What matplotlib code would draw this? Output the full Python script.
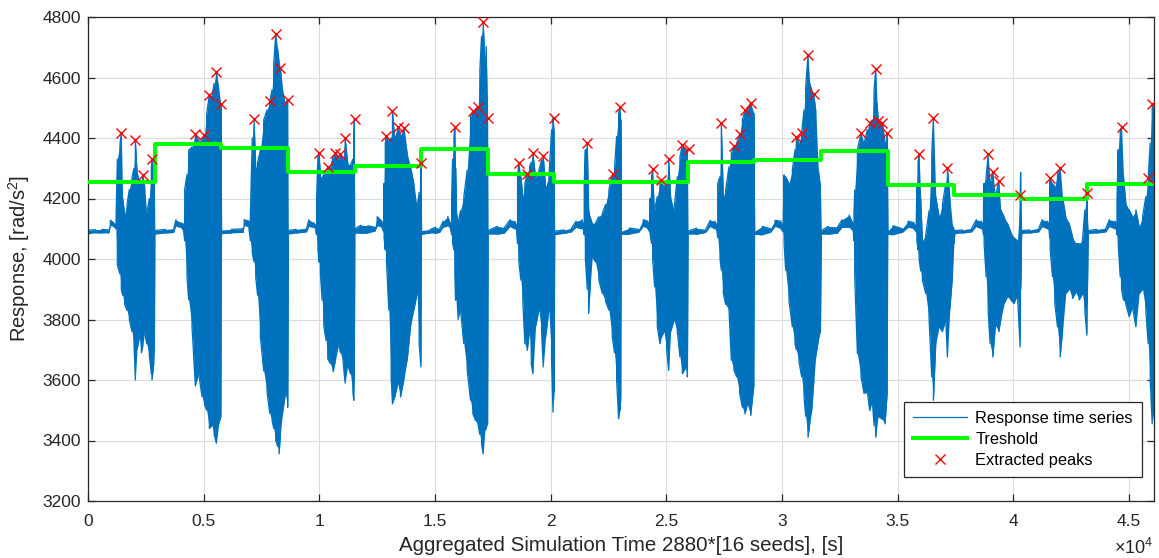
import matplotlib
matplotlib.use("Agg")
import matplotlib.pyplot as plt

plt.rcParams['font.family'] = ['Liberation Sans', 'DejaVu Sans']
plt.rcParams['mathtext.default'] = 'regular'

# ---------------- data ----------------
# Envelope of the dense response time series: time [s], upper and lower values [rad/s^2]
resp_t = [
    0, 316, 604, 892, 964, 1108, 1209, 1267, 1382, 1440, 1498, 1584, 1685, 1786, 1901, 1988, 2046, 2118, 2219, 2305, 2363, 2449, 2536, 2651, 2738, 2766, 2838, 2870,
    2890, 3343, 3704, 3805, 3992, 4136, 4179, 4280, 4352, 4496, 4641, 4785, 4929, 5030, 5130, 5246, 5362, 5450, 5549, 5650, 5745,
    5775, 6200, 6700, 6750, 6950, 7020, 7100, 7178, 7250, 7330, 7452, 7596, 7740, 7856, 7957, 8029, 8115, 8202, 8260, 8317, 8389, 8533, 8630,
    8655, 9000, 9450, 9550, 9750, 9850, 9880, 9940, 9989, 10047, 10120, 10191, 10290, 10364, 10480, 10595, 10681, 10840, 10912, 11027, 11114, 11229, 11345, 11450, 11489, 11512,
    11535, 11800, 12100, 12400, 12500, 12700, 12780, 12800, 12850, 12902, 13003, 13103, 13161, 13248, 13392, 13507, 13651, 13795, 13940, 14084, 14228, 14314, 14392,
    14420, 14800, 15021, 15200, 15350, 15550, 15680, 15720, 15760, 15820, 15857, 15890, 15930, 16001, 16102, 16246, 16391, 16535, 16636, 16751, 16866, 16938, 17011, 17083, 17155, 17212, 17270,
    17295, 17700, 18000, 18250, 18450, 18530, 18568, 18625, 18712, 18798, 18885, 18986, 19087, 19160, 19231, 19346, 19490, 19606, 19678, 19779, 19923, 20038, 20100, 20150,
    20175, 20600, 20900, 21100, 21350, 21430, 21450, 21500, 21581, 21640, 21700, 21797, 21941, 22085, 22230, 22374, 22518, 22662, 22760, 22850, 22936, 22994, 23030,
    23060, 23400, 23800, 24000, 24200, 24280, 24300, 24360, 24407, 24493, 24608, 24724, 24781, 24897, 25012, 25099, 25185, 25329, 25473, 25589, 25690, 25834, 25910,
    25940, 26300, 26700, 26900, 27100, 27190, 27220, 27319, 27376, 27463, 27564, 27708, 27809, 27924, 28039, 28169, 28285, 28400, 28501, 28645, 28780,
    28820, 29150, 29500, 29700, 29950, 30050, 30090, 30158, 30302, 30446, 30562, 30619, 30735, 30850, 30951, 31023, 31124, 31196, 31283, 31369, 31455, 31571, 31660,
    31700, 32000, 32400, 32600, 32900, 33080, 33110, 33142, 33258, 33416, 33546, 33690, 33791, 33906, 33978, 34051, 34108, 34166, 34339, 34454, 34545,
    34580, 34800, 35200, 35450, 35700, 35800, 35830, 35880, 35925, 35997, 36069, 36213, 36357, 36473, 36545, 36646, 36790, 36934, 37078, 37150, 37251, 37367, 37430,
    37470, 37800, 38200, 38400, 38620, 38690, 38710, 38736, 38823, 38909, 38994, 39111, 39226, 39371, 39457, 39601, 39745, 39890, 40034, 40178, 40293, 40315,
    40360, 40700, 41100, 41250, 41480, 41550, 41570, 41591, 41692, 41793, 41908, 42023, 42124, 42268, 42413, 42557, 42701, 42845, 42989, 43090, 43177, 43195,
    43240, 43600, 44000, 44150, 44400, 44460, 44480, 44532, 44618, 44676, 44762, 44863, 45008, 45152, 45296, 45440, 45584, 45728, 45829, 45916, 46002, 46080,
]
resp_hi = [
    4095, 4097, 4098, 4096, 4128, 4120, 4118, 4330, 4380, 4418, 4200, 4150, 4180, 4230, 4270, 4300, 4394, 4290, 4260, 4250, 4277, 4240, 4150, 4200, 4300, 4331, 4300, 4250,
    4094, 4098, 4100, 4130, 4120, 4115, 4230, 4280, 4360, 4370, 4412, 4390, 4395, 4409, 4480, 4543, 4540, 4580, 4617, 4560, 4512,
    4096, 4098, 4100, 4130, 4125, 4150, 4400, 4462, 4300, 4320, 4360, 4460, 4493, 4521, 4560, 4648, 4745, 4692, 4650, 4633, 4570, 4515, 4526,
    4094, 4098, 4102, 4130, 4120, 4110, 4200, 4340, 4350, 4272, 4270, 4280, 4290, 4305, 4300, 4338, 4352, 4330, 4346, 4330, 4401, 4316, 4310, 4330, 4380, 4462,
    4100, 4112, 4110, 4105, 4140, 4125, 4110, 4250, 4383, 4407, 4390, 4400, 4488, 4405, 4438, 4410, 4432, 4350, 4305, 4250, 4170, 4220, 4319,
    4094, 4098, 4105, 4100, 4125, 4140, 4115, 4200, 4330, 4405, 4436, 4300, 4160, 4120, 4160, 4206, 4294, 4471, 4488, 4495, 4504, 4625, 4736, 4782, 4659, 4703, 4465,
    4094, 4108, 4104, 4130, 4125, 4110, 4272, 4319, 4272, 4206, 4250, 4283, 4305, 4320, 4350, 4272, 4294, 4327, 4342, 4239, 4272, 4427, 4465, 4420,
    4092, 4096, 4102, 4125, 4130, 4110, 4250, 4361, 4385, 4170, 4140, 4118, 4120, 4140, 4150, 4180, 4230, 4278, 4300, 4405, 4482, 4504, 4460,
    4092, 4102, 4098, 4130, 4125, 4110, 4200, 4272, 4297, 4162, 4206, 4250, 4261, 4240, 4250, 4332, 4206, 4162, 4272, 4338, 4377, 4360, 4363,
    4092, 4102, 4098, 4128, 4125, 4110, 4250, 4272, 4449, 4206, 4230, 4305, 4350, 4372, 4383, 4412, 4460, 4491, 4493, 4517, 4482,
    4092, 4108, 4100, 4128, 4125, 4110, 4278, 4272, 4250, 4294, 4361, 4403, 4383, 4418, 4493, 4570, 4675, 4581, 4560, 4546, 4493, 4294, 4239,
    4094, 4108, 4106, 4130, 4145, 4115, 4150, 4228, 4361, 4416, 4383, 4427, 4451, 4460, 4559, 4628, 4515, 4455, 4451, 4383, 4416,
    4094, 4110, 4100, 4125, 4120, 4110, 4250, 4320, 4347, 4200, 4060, 4080, 4160, 4350, 4465, 4206, 4140, 4180, 4250, 4302, 4206, 4110, 4100,
    4094, 4096, 4102, 4130, 4125, 4110, 4180, 4250, 4272, 4347, 4250, 4288, 4206, 4259, 4162, 4140, 4118, 4090, 4070, 4060, 4210, 4286,
    4094, 4096, 4102, 4130, 4125, 4110, 4230, 4267, 4250, 4239, 4283, 4302, 4206, 4140, 4118, 4074, 4051, 4051, 4062, 4162, 4219, 4150,
    4094, 4098, 4102, 4130, 4125, 4110, 4200, 4361, 4427, 4436, 4272, 4184, 4162, 4140, 4162, 4107, 4140, 4206, 4267, 4383, 4512, 4493,
]
resp_lo = [
    4083, 4087, 4086, 4086, 4110, 4108, 4100, 3980, 3950, 3900, 3880, 3850, 3830, 3800, 3760, 3720, 3600, 3700, 3740, 3690, 3710, 3760, 3720, 3680, 3620, 3600, 3650, 3700,
    4082, 4086, 4088, 4110, 4105, 4090, 4060, 3940, 3865, 3775, 3580, 3620, 3545, 3520, 3500, 3440, 3450, 3420, 3391, 3455, 3480,
    4084, 4086, 4088, 4112, 4105, 4060, 4020, 3990, 3940, 3880, 3740, 3630, 3560, 3490, 3466, 3440, 3400, 3380, 3356, 3420, 3480, 3555, 3510,
    4082, 4086, 4090, 4108, 4105, 4090, 4080, 4030, 3990, 3950, 3864, 3780, 3731, 3670, 3654, 3627, 3660, 3720, 3690, 3660, 3590, 3650, 3620, 3560, 3533, 3600,
    4085, 4085, 4086, 4092, 4110, 4105, 4090, 4070, 4030, 3990, 3831, 3610, 3521, 3540, 3588, 3544, 3600, 3665, 3776, 3831, 3886, 3720, 3643,
    4082, 4086, 4085, 4088, 4105, 4110, 4095, 4080, 4051, 4030, 3950, 3864, 3900, 3800, 3831, 3720, 3632, 3533, 3488, 3466, 3450, 3420, 3389, 3356, 3433, 3440, 3455,
    4082, 4082, 4086, 4108, 4100, 4090, 4051, 3990, 3930, 3853, 3720, 3698, 3760, 3654, 3621, 3776, 3831, 3760, 3643, 3740, 3831, 3665, 3494, 3560,
    4080, 4085, 4090, 4105, 4100, 4090, 4080, 4000, 3900, 3820, 3900, 4007, 3990, 3930, 3886, 3860, 3831, 3742, 3690, 3600, 3472, 3500, 3540,
    4082, 4082, 4088, 4108, 4100, 4090, 4080, 4051, 4000, 3908, 3776, 3720, 3740, 3760, 3700, 3632, 3760, 3797, 3760, 3676, 3621, 3640, 3610,
    4082, 4082, 4088, 4108, 4100, 4090, 4070, 4000, 3963, 3886, 3850, 3831, 3665, 3632, 3610, 3555, 3510, 3488, 3520, 3483, 3580,
    4082, 4080, 4088, 4108, 4100, 4090, 4051, 3963, 3860, 3776, 3720, 3700, 3660, 3610, 3544, 3480, 3411, 3455, 3499, 3590, 3676, 3731, 3760,
    4082, 4082, 4086, 4105, 4105, 4090, 4060, 3941, 3687, 3610, 3555, 3560, 3499, 3530, 3450, 3411, 3460, 3480, 3470, 3455, 3555,
    4082, 4080, 4088, 4105, 4100, 4090, 4060, 4030, 4000, 3960, 3930, 3886, 3800, 3610, 3533, 3720, 3776, 3760, 3797, 3676, 3831, 3941, 4050,
    4084, 4086, 4090, 4108, 4100, 4090, 4080, 4051, 3941, 3831, 3720, 3676, 3780, 3760, 3800, 3853, 3875, 3865, 3853, 3880, 3709, 3900,
    4084, 4086, 4090, 4108, 4100, 4090, 4070, 4030, 3941, 3853, 3776, 3676, 3760, 3886, 3900, 3870, 3890, 3865, 3885, 3831, 3748, 3850,
    4084, 4086, 4090, 4108, 4100, 4090, 4080, 4051, 3941, 3900, 3864, 3850, 3809, 3840, 3776, 3886, 3900, 3830, 3720, 3600, 3455, 3500,
]

# Threshold: one level per seed (16 seeds of 2880 s)
thr_edges = [0, 2880, 5760, 8640, 11520, 14400, 17280, 20160, 23040, 25920,
             28800, 31680, 34560, 37440, 40320, 43200, 46080]
thr_values = [4254, 4380, 4368, 4288, 4308, 4363, 4280, 4256, 4256, 4322,
              4327, 4357, 4244, 4210, 4200, 4248]

# Extracted peaks
peak_t = [1440, 2046, 2363, 2766, 4641, 5030, 5246, 5549, 5765, 7178, 7856, 8115, 8317, 8634,
          9989, 10364, 10681, 10912, 11114, 11532, 12902, 13161, 13392, 13651, 14401,
          15857, 16636, 16866, 17083, 17284, 18625, 18986, 19231, 19678, 20125,
          21581, 22700, 22994, 24407, 24781, 25099, 25690, 25964,
          27376, 27924, 28169, 28400, 28645, 30619, 30850, 31124, 31369,
          33416, 33791, 34051, 34166, 34339, 34555, 35925, 36545, 37150,
          38909, 39111, 39371, 40293, 41591, 42023, 43177, 44676, 45829, 46002]
peak_v = [4418, 4394, 4277, 4331, 4412, 4409, 4543, 4617, 4512, 4462, 4521, 4745, 4633, 4526,
          4350, 4305, 4352, 4346, 4401, 4462, 4407, 4488, 4438, 4432, 4319,
          4436, 4488, 4504, 4782, 4465, 4319, 4281, 4350, 4342, 4465,
          4385, 4280, 4504, 4297, 4261, 4332, 4377, 4363,
          4449, 4372, 4412, 4491, 4517, 4403, 4418, 4675, 4546,
          4416, 4451, 4628, 4455, 4451, 4416, 4347, 4465, 4302,
          4347, 4288, 4259, 4210, 4267, 4302, 4219, 4436, 4267, 4512]

x_ticks = [0, 5000, 10000, 15000, 20000, 25000, 30000, 35000, 40000, 45000]
x_tick_labels = ['0', '0.5', '1', '1.5', '2', '2.5', '3', '3.5', '4', '4.5']
y_ticks = [3200, 3400, 3600, 3800, 4000, 4200, 4400, 4600, 4800]

assert len(resp_t) == len(resp_hi) == len(resp_lo)
assert len(peak_t) == len(peak_v)

# ---------------- plot ----------------
BLUE = '#0072BD'
AX_COL = '#262626'

fig = plt.figure(figsize=(11.59, 5.58), dpi=100)
ax = fig.add_axes([88 / 1159, 1 - 501 / 558, (1154 - 88) / 1159, (501 - 17) / 558])

# dense oscillating series: zig-zag through the read envelope, filled
zz_t, zz_v = [], []
for i, (t, h, l) in enumerate(zip(resp_t, resp_hi, resp_lo)):
    zz_t += [t, t]
    zz_v += [l, h] if i % 2 == 0 else [h, l]
ax.fill_between(resp_t, resp_lo, resp_hi, color=BLUE, lw=0, zorder=2)
ax.plot(zz_t, zz_v, color=BLUE, lw=0.9, zorder=2, label='Response time series')

ax.step(thr_edges, thr_values + [thr_values[-1]], where='post', color='#00FF00',
        lw=2.8, zorder=3, label='Treshold')
ax.plot(peak_t, peak_v, ls='none', marker='x', color='#FF0000', ms=7, mew=1.0,
        zorder=4, label='Extracted peaks')

ax.set_xlim(0, 46080)
ax.set_ylim(3200, 4800)
ax.set_xticks(x_ticks)
ax.set_xticklabels(x_tick_labels)
ax.set_yticks(y_ticks)

ax.grid(True, color='#dcdcdc', lw=0.8)
ax.set_axisbelow(True)
for s in ax.spines.values():
    s.set_color(AX_COL)
    s.set_linewidth(0.9)
ax.tick_params(direction='in', top=True, right=True, length=5, width=0.9,
               color=AX_COL, labelcolor=AX_COL, labelsize=12.5)
ax.tick_params(axis='x', pad=9)
ax.tick_params(axis='y', pad=5)

ax.set_xlabel('Aggregated Simulation Time 2880*[16 seeds], [s]', fontsize=14.8, color=AX_COL)
ax.xaxis.set_label_coords(0.5, -0.073)
ax.set_ylabel('Response, [rad/s$^{2}$]', fontsize=14.5, color=AX_COL)
ax.yaxis.set_label_coords(-0.0525, 0.5)

fig.text(1153 / 1159, 1 - 548 / 558, r'$\times10^{4}$', ha='right', va='center',
         fontsize=13, color=AX_COL)

leg = ax.legend(loc='lower right', bbox_to_anchor=((1142 - 88) / 1066, (501 - 477) / 484),
                fontsize=11.8, frameon=True, fancybox=False, framealpha=1,
                edgecolor=AX_COL, handlelength=3.3, handletextpad=0.5,
                labelspacing=0.37, borderpad=0.55, borderaxespad=0)
leg.get_frame().set_linewidth(0.9)

fig.savefig('out.png', dpi=100)
